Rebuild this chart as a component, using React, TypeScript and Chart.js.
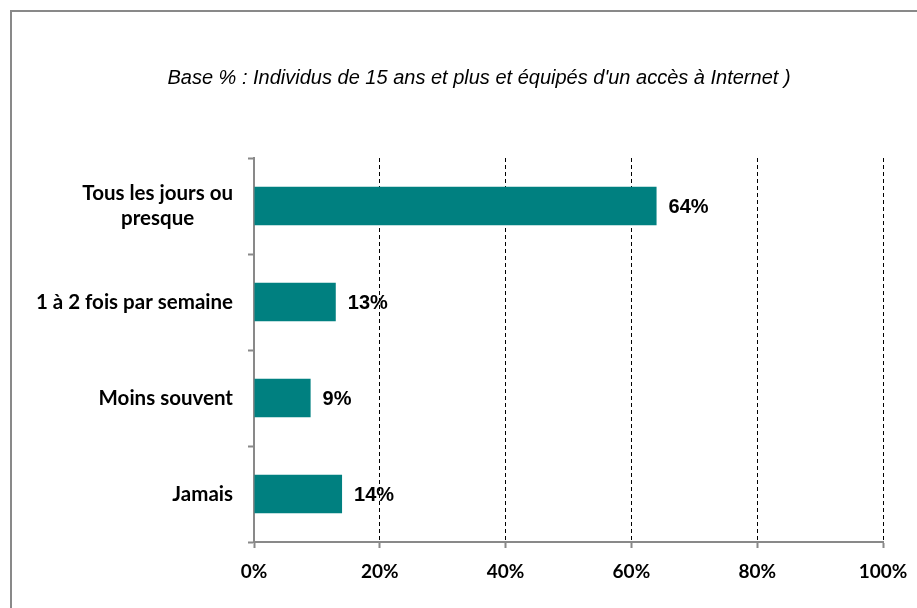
import React, { useEffect, useRef } from "react";
import { Chart, registerables } from "chart.js";

Chart.register(...registerables);

const categories: (string | string[])[] = [
  ["Tous les jours ou", "presque"],
  "1 à 2 fois par semaine",
  "Moins souvent",
  "Jamais",
];
const values = [64, 13, 9, 14];
const xMin = 0;
const xMax = 100;
const xStep = 20;
const titleText =
  "Base % : Individus de 15 ans et plus et équipés d'un accès à Internet )";

const BAR_COLOR = "#008080";
const AXIS_COLOR = "#898989";

const framePlugin = {
  id: "frame",
  beforeDraw(chart: any) {
    const ctx = chart.ctx;
    ctx.save();
    ctx.fillStyle = "#ffffff";
    ctx.fillRect(0, 0, chart.width, chart.height);
    ctx.strokeStyle = AXIS_COLOR;
    ctx.lineWidth = 2;
    ctx.strokeRect(11, 11, chart.width + 100, chart.height + 100);
    ctx.fillStyle = "#000";
    ctx.font = "italic 20px 'Liberation Sans', Arial, sans-serif";
    ctx.textAlign = "center";
    ctx.textBaseline = "middle";
    ctx.fillText(titleText, 479, 78);
    ctx.restore();
  },
};

const labelsPlugin = {
  id: "labels",
  afterDatasetsDraw(chart: any) {
    const ctx = chart.ctx;
    const yScale = chart.scales.y;
    const xScale = chart.scales.x;
    ctx.save();
    // category labels
    ctx.fillStyle = "#000";
    ctx.font = "bold 20.5px Lato, sans-serif";
    ctx.textBaseline = "middle";
    ctx.textAlign = "center";
    const right = yScale.right - 21;
    const lh = 25;
    const labels = chart.data.labels as (string | string[])[];
    labels.forEach((lab, i) => {
      const lines = Array.isArray(lab) ? lab : [lab];
      const w = Math.max(...lines.map((l) => ctx.measureText(l).width));
      const cy = yScale.getPixelForValue(i);
      lines.forEach((l, j) => {
        ctx.fillText(l, right - w / 2, cy + (j - (lines.length - 1) / 2) * lh);
      });
    });
    // data labels
    ctx.font = "bold 20px 'Liberation Sans', Arial, sans-serif";
    ctx.textAlign = "left";
    const meta = chart.getDatasetMeta(0);
    chart.data.datasets[0].data.forEach((v: number, i: number) => {
      const bar = meta.data[i];
      ctx.fillText(v + "%", xScale.getPixelForValue(v) + 12, bar.y + 1);
    });
    ctx.restore();
  },
};

export default function App() {
  const ref = useRef<HTMLCanvasElement>(null);
  useEffect(() => {
    if (!ref.current) return;
    const chart = new Chart(ref.current, {
      type: "bar",
      data: {
        labels: categories,
        datasets: [
          {
            data: values,
            backgroundColor: BAR_COLOR,
            barPercentage: 0.4,
            categoryPercentage: 1,
          },
        ],
      },
      options: {
        indexAxis: "y",
        responsive: false,
        animation: false,
        devicePixelRatio: 1,
        layout: { padding: { left: 0, right: 34, top: 158, bottom: 0 } },
        plugins: {
          legend: { display: false },
          tooltip: { enabled: false },
          title: { display: false },
        },
        scales: {
          x: {
            type: "linear",
            min: xMin,
            max: xMax,
            ticks: {
              stepSize: xStep,
              callback: (v: any) => v + "%",
              color: "#000",
              font: { family: "Lato", weight: "bold", size: 19 },
              padding: 12,
            },
            grid: {
              color: (c: any) => (c.index === 0 ? "rgba(0,0,0,0)" : "#000"),
              lineWidth: 1,
              tickColor: AXIS_COLOR,
              tickLength: 6,
              tickWidth: 2,
            },
            border: { color: AXIS_COLOR, width: 2, dash: [4, 3] },
            afterFit: (s: any) => {
              s.height = 66;
              s.paddingLeft = 0;
              s.paddingRight = 0;
            },
          },
          y: {
            type: "category",
            ticks: { display: false },
            grid: {
              drawOnChartArea: false,
              drawTicks: true,
              tickLength: 6,
              tickWidth: 2,
              tickColor: AXIS_COLOR,
              color: AXIS_COLOR,
              offset: true,
            },
            border: { color: AXIS_COLOR, width: 2 },
            afterFit: (s: any) => {
              s.width = 254;
              s.paddingTop = 0;
              s.paddingBottom = 0;
            },
          },
        },
      },
      plugins: [framePlugin, labelsPlugin],
    } as any);
    return () => chart.destroy();
  }, []);
  return (
    <div style={{ position: "absolute", left: 0, top: 0 }}>
      <canvas ref={ref} width={917} height={608} style={{ display: "block" }} />
    </div>
  );
}
